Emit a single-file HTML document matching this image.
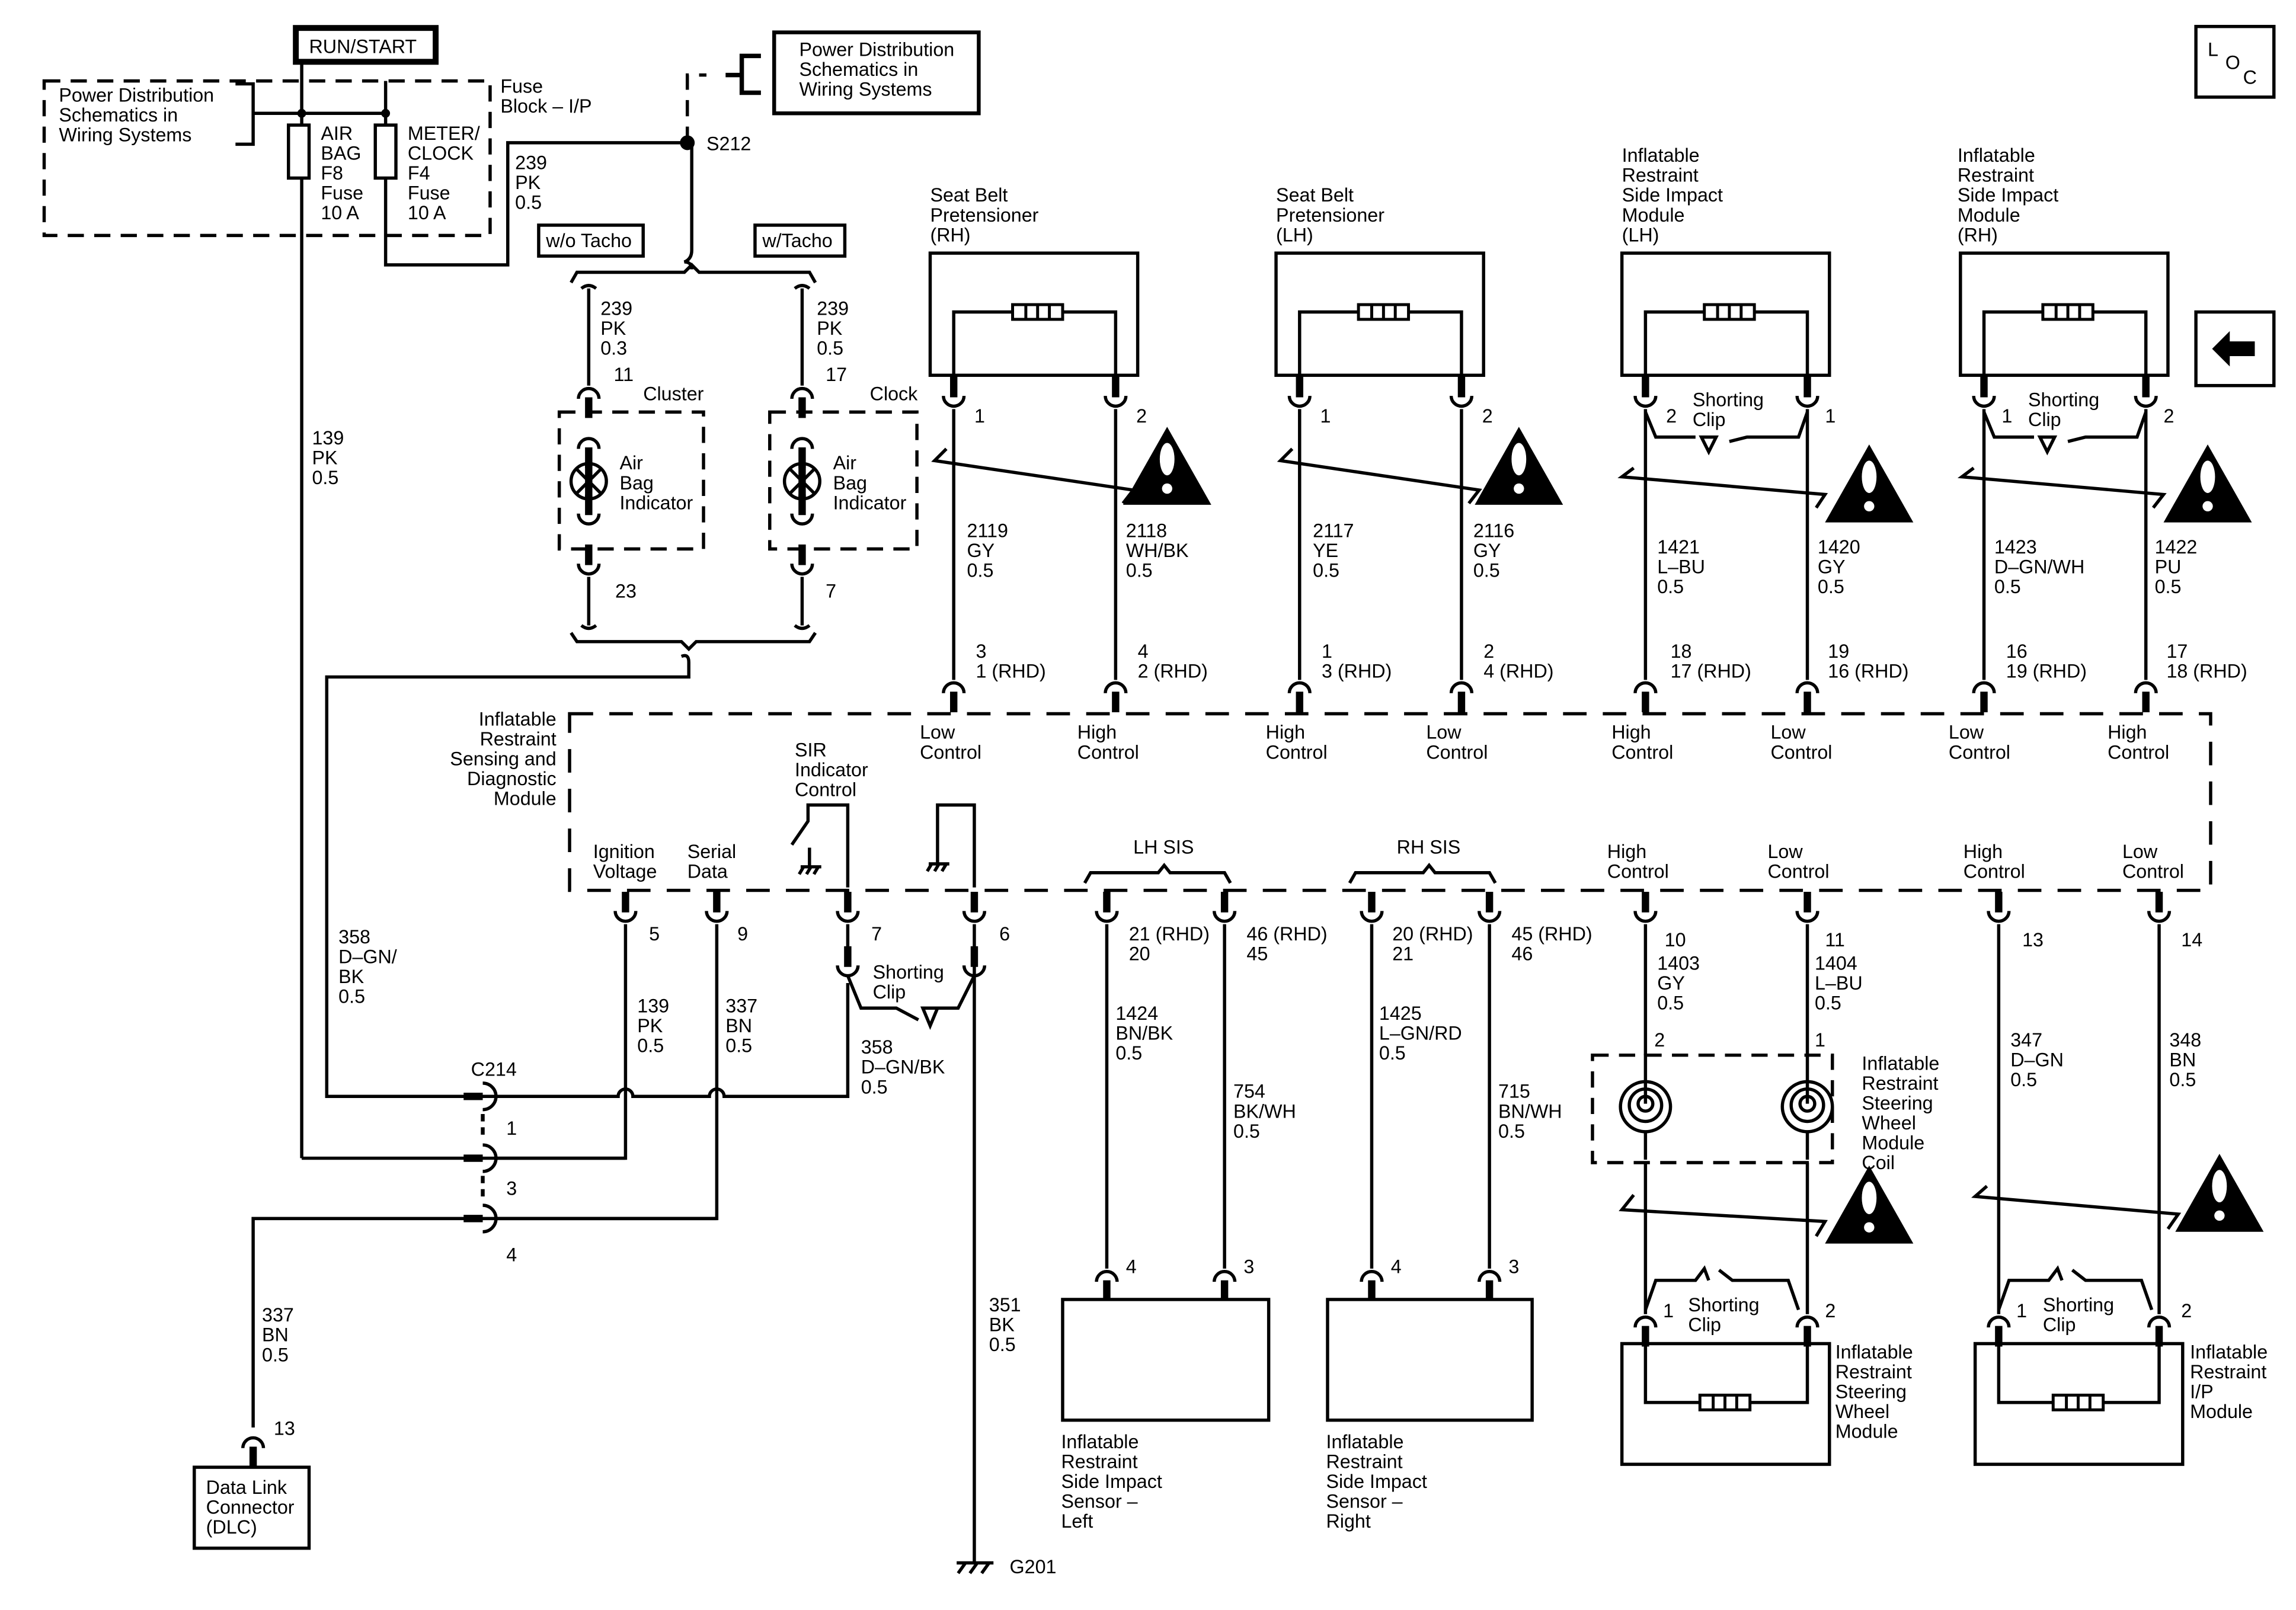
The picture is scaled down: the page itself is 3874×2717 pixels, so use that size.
<!DOCTYPE html>
<html><head><meta charset="utf-8"><style>
html,body{margin:0;padding:0;background:#fff}
svg{display:block}
text{font-family:"Liberation Sans",sans-serif;font-size:13px;fill:#000}
</style></head><body>
<svg width="3874" height="2717" viewBox="0 0 1560 1094" preserveAspectRatio="none" xmlns="http://www.w3.org/2000/svg">
<defs>
<g id="cu"><line x1="0" y1="-22" x2="0" y2="-8" stroke="#000" stroke-width="5"/><path d="M-7 -9 A7 7 0 0 0 7 -9" fill="none" stroke="#000" stroke-width="2.2"/></g>
<g id="ca"><path d="M-7 9 A7 7 0 0 1 7 9" fill="none" stroke="#000" stroke-width="2.2"/><line x1="0" y1="8" x2="0" y2="22" stroke="#000" stroke-width="5"/></g>
<g id="warn"><polygon points="0,-28 -30,25 30,25" fill="#000"/><ellipse cx="0" cy="-6" rx="5" ry="11" fill="#fff"/><circle cx="0" cy="14" r="3.5" fill="#fff"/></g>
<g id="res"><rect x="-17" y="-5" width="34" height="10" fill="#fff" stroke="#000" stroke-width="2"/><line x1="-8" y1="-5" x2="-8" y2="5" stroke="#000" stroke-width="2"/><line x1="0" y1="-5" x2="0" y2="5" stroke="#000" stroke-width="2"/><line x1="8" y1="-5" x2="8" y2="5" stroke="#000" stroke-width="2"/></g>
<g id="coil" fill="none" stroke="#000" stroke-width="2.2"><circle r="17" cx="0" cy="0"/><circle r="11" cx="0" cy="-1"/><circle r="5" cx="0" cy="-2"/><path d="M0 -36 V-2 M0 17 V36"/></g>
<g id="gnd" fill="none" stroke="#000" stroke-width="2.2"><path d="M-7 0 H7 M-5 0 L-8 5 M0 0 L-3 5 M5 0 L2 5"/></g>
</defs>
<g fill="none" stroke="#000" stroke-width="2.2">
<!-- top-left -->
<rect x="201" y="19" width="95" height="23" stroke-width="4"/>
<path d="M30 55 H333 V160 H30 Z" stroke-dasharray="11,7"/>
<path d="M160 57 H172 V98 H160 M172 77 H262"/>
<path d="M205 42 V85 M205 120 V787 M262 55 V85 M262 120 V180 H345 V97 H470"/>
<rect x="196" y="85" width="14" height="36"/><rect x="255" y="85" width="14" height="36"/>
<path d="M467 97 V51 H480" stroke-dasharray="11,7"/>
<path d="M493 51 H504 M517 38 H504 V63 H517" stroke-width="3"/>
<rect x="526" y="22" width="139" height="55" stroke-width="2.6"/>
<path d="M470 97 V170 Q470 176 465 178 Q470 178 470 183"/>
<path d="M388 192 L392 185 H465 L470 180 L475 185 H550 L554 192"/>
<rect x="366" y="153" width="71" height="21"/><rect x="513" y="153" width="61" height="21"/>
<!-- lamps -->
<path d="M400 196 V262 M545 196 V262"/>
<path d="M395 196 Q400 192 405 196 M540 196 Q545 192 550 196"/>
<rect x="380" y="280" width="98" height="93" stroke-dasharray="11,7"/>
<rect x="523" y="280" width="100" height="93" stroke-dasharray="11,7"/>
<circle cx="400" cy="327" r="12"/><path d="M392 319 L408 335 M408 319 L392 335"/>
<circle cx="545" cy="327" r="12"/><path d="M537 319 L553 335 M553 319 L537 335"/>
<path d="M400 392 V425 M545 392 V425 M395 425 Q400 429 405 425 M540 425 Q545 429 550 425"/>
<path d="M388 430 L392 436 H463 L468 441 L473 436 H550 L554 430"/>
<path d="M463 446 Q468 444 468 450 V460 H222 V745 H420 A5 5 0 0 1 430 745 H482 A5 5 0 0 1 492 745 H576 V668"/>
<!-- pretensioners / side modules -->
<rect x="632" y="172" width="141" height="83"/><path d="M648 255 V212 H758 V255"/>
<rect x="867" y="172" width="141" height="83"/><path d="M883 255 V212 H993 V255"/>
<rect x="1102" y="172" width="141" height="83"/><path d="M1118 255 V212 H1228 V255"/>
<rect x="1332" y="172" width="141" height="83"/><path d="M1348 255 V212 H1458 V255"/>
<path d="M648 278 V462 M758 278 V462 M883 278 V462 M993 278 V462 M1118 278 V462 M1228 278 V462 M1348 278 V462 M1458 278 V462"/>
<path d="M643 305 L635 313 L770 333 L763 342"/>
<path d="M878 305 L870 313 L1005 333 L998 342"/>
<path d="M1110 318 L1102 324 L1240 336 L1234 345"/>
<path d="M1341 318 L1333 324 L1470 336 L1463 345"/>
<path d="M1118 280 L1125 297 H1152 M1175 300 L1187 297 H1222 L1228 280"/>
<path d="M1348 280 L1355 297 H1382 M1405 300 L1417 297 H1452 L1458 280"/>
<path d="M1156 297 H1166 L1161 307 Z M1386 297 H1396 L1391 307 Z"/>
<!-- module -->
<path d="M387 485 H1502 V605 H387 Z" stroke-dasharray="16,11"/>
<path d="M576 603 V547 H549 V558 L538 574 M550 576 V589"/>
<path d="M662 603 V547 H637 V587"/>
<path d="M737 600 L741 593 H787 L791 588 L795 593 H832 L836 600"/>
<path d="M917 600 L921 593 H967 L971 588 L975 593 H1012 L1016 600"/>
<!-- bottom wires -->
<path d="M425 628 V787 H205"/>
<path d="M487 628 V828 H172 V970"/>
<path d="M662 628 V1062"/>
<path d="M576 628 V650"/>
<path d="M576 663 L585 685 H609 L624 693 M637 685 H651 L662 663"/>
<path d="M627 685 H637 L632 697 Z"/>
<path d="M752 628 V862 M832 628 V862 M932 628 V862 M1012 628 V862"/>
<rect x="722" y="883" width="140" height="82"/><rect x="902" y="883" width="139" height="82"/>
<rect x="132" y="997" width="78" height="55"/>
<path d="M1118 628 V893 M1228 628 V893 M1358 628 V893 M1467 628 V893"/>
<rect x="1082" y="717" width="163" height="73" stroke-dasharray="11,7" fill="#fff"/>
<path d="M1110 812 L1102 822 L1240 830 L1234 840"/>
<path d="M1350 806 L1342 813 L1480 825 L1473 835"/>
<path d="M1118 890 L1125 870 H1152 L1158 862 L1161 870 M1168 863 L1177 870 H1215 L1222 890"/>
<path d="M1358 890 L1365 870 H1392 L1398 862 L1401 870 M1408 863 L1417 870 H1455 L1462 890"/>
<rect x="1102" y="913" width="141" height="82"/><path d="M1118 913 V953 H1228 V913"/>
<rect x="1342" y="913" width="141" height="82"/><path d="M1358 913 V953 H1467 V913"/>
<!-- misc -->
<rect x="1492" y="18" width="53" height="48"/>
<rect x="1492" y="212" width="53" height="50"/>
<path d="M650 1062 H675 M651 1069 L656 1062 M659 1069 L664 1062 M667 1069 L672 1062"/>
<!-- C214 -->
<path d="M328 736 A9 9 0 0 1 328 754 M328 778 A9 9 0 0 1 328 796 M328 819 A9 9 0 0 1 328 837"/>
<path d="M328 757 V775 M328 799 V817" stroke-dasharray="5,4" stroke-width="2.6"/>
<path d="M336 787 H425"/>
<path d="M336 828 H487"/>
</g>
<use href="#gnd" x="551" y="589"/><use href="#gnd" x="638" y="587"/>
<g fill="#fff"><use href="#coil" x="1118" y="752"/><use href="#coil" x="1228" y="752"/></g>
<path d="M1503 237 L1515 225 V232 H1532 V242 H1515 V249 Z" fill="#000"/>
<circle cx="467" cy="97" r="5" fill="#000"/>
<circle cx="205" cy="77" r="3" fill="#000"/><circle cx="262" cy="77" r="3" fill="#000"/>
<g stroke="#000" stroke-width="5"><line x1="315" y1="745" x2="328" y2="745"/><line x1="315" y1="787" x2="328" y2="787"/><line x1="315" y1="828" x2="328" y2="828"/></g>
<!-- resistors -->
<use href="#res" x="705" y="212"/><use href="#res" x="940" y="212"/><use href="#res" x="1175" y="212"/><use href="#res" x="1405" y="212"/>
<use href="#res" x="1172" y="953"/><use href="#res" x="1412" y="953"/>
<!-- connectors -->
<use href="#ca" x="400" y="262"/><use href="#ca" x="545" y="262"/>
<use href="#ca" x="400" y="296"/><use href="#ca" x="545" y="296"/>
<use href="#cu" x="400" y="358"/><use href="#cu" x="545" y="358"/>
<use href="#cu" x="400" y="392"/><use href="#cu" x="545" y="392"/>
<line x1="400" y1="316" x2="400" y2="338" stroke="#000" stroke-width="5"/><line x1="545" y1="316" x2="545" y2="338" stroke="#000" stroke-width="5"/>
<use href="#cu" x="648" y="278"/><use href="#cu" x="758" y="278"/><use href="#cu" x="883" y="278"/><use href="#cu" x="993" y="278"/>
<use href="#cu" x="1118" y="278"/><use href="#cu" x="1228" y="278"/><use href="#cu" x="1348" y="278"/><use href="#cu" x="1458" y="278"/>
<use href="#ca" x="648" y="462"/><use href="#ca" x="758" y="462"/><use href="#ca" x="883" y="462"/><use href="#ca" x="993" y="462"/>
<use href="#ca" x="1118" y="462"/><use href="#ca" x="1228" y="462"/><use href="#ca" x="1348" y="462"/><use href="#ca" x="1458" y="462"/>
<use href="#cu" x="425" y="628"/><use href="#cu" x="487" y="628"/><use href="#cu" x="576" y="628"/><use href="#cu" x="662" y="628"/>
<use href="#cu" x="752" y="628"/><use href="#cu" x="832" y="628"/><use href="#cu" x="932" y="628"/><use href="#cu" x="1012" y="628"/>
<use href="#cu" x="1118" y="628"/><use href="#cu" x="1228" y="628"/><use href="#cu" x="1358" y="628"/><use href="#cu" x="1467" y="628"/>
<use href="#cu" x="576" y="665"/><use href="#cu" x="662" y="665"/>
<use href="#ca" x="752" y="862"/><use href="#ca" x="832" y="862"/><use href="#ca" x="932" y="862"/><use href="#ca" x="1012" y="862"/>
<use href="#ca" x="1118" y="893"/><use href="#ca" x="1228" y="893"/><use href="#ca" x="1358" y="893"/><use href="#ca" x="1467" y="893"/>
<use href="#ca" x="172" y="975"/>
<use href="#warn" x="793" y="318"/><use href="#warn" x="1032" y="318"/><use href="#warn" x="1270" y="330"/><use href="#warn" x="1500" y="330"/>
<use href="#warn" x="1270" y="820"/><use href="#warn" x="1508" y="812"/>
<!-- texts -->
<text x="210" y="36">RUN/START</text>
<text x="40" y="69">Power Distribution<tspan x="40" dy="13.5">Schematics in</tspan><tspan x="40" dy="13.5">Wiring Systems</tspan></text>
<text x="340" y="63">Fuse<tspan x="340" dy="13.5">Block – I/P</tspan></text>
<text x="218" y="95">AIR<tspan x="218" dy="13.5">BAG</tspan><tspan x="218" dy="13.5">F8</tspan><tspan x="218" dy="13.5">Fuse</tspan><tspan x="218" dy="13.5">10 A</tspan></text>
<text x="277" y="95">METER/<tspan x="277" dy="13.5">CLOCK</tspan><tspan x="277" dy="13.5">F4</tspan><tspan x="277" dy="13.5">Fuse</tspan><tspan x="277" dy="13.5">10 A</tspan></text>
<text x="350" y="115">239<tspan x="350" dy="13.5">PK</tspan><tspan x="350" dy="13.5">0.5</tspan></text>
<text x="480" y="102">S212</text>
<text x="543" y="38">Power Distribution<tspan x="543" dy="13.5">Schematics in</tspan><tspan x="543" dy="13.5">Wiring Systems</tspan></text>
<text x="371" y="168">w/o Tacho</text><text x="518" y="168">w/Tacho</text>
<text x="408" y="214">239<tspan x="408" dy="13.5">PK</tspan><tspan x="408" dy="13.5">0.3</tspan></text>
<text x="555" y="214">239<tspan x="555" dy="13.5">PK</tspan><tspan x="555" dy="13.5">0.5</tspan></text>
<text x="417" y="259">11</text><text x="437" y="272">Cluster</text>
<text x="561" y="259">17</text><text x="591" y="272">Clock</text>
<text x="421" y="319">Air<tspan x="421" dy="13.5">Bag</tspan><tspan x="421" dy="13.5">Indicator</tspan></text>
<text x="566" y="319">Air<tspan x="566" dy="13.5">Bag</tspan><tspan x="566" dy="13.5">Indicator</tspan></text>
<text x="418" y="406">23</text><text x="561" y="406">7</text>
<text x="212" y="302">139<tspan x="212" dy="13.5">PK</tspan><tspan x="212" dy="13.5">0.5</tspan></text>
<text x="632" y="137">Seat Belt<tspan x="632" dy="13.5">Pretensioner</tspan><tspan x="632" dy="13.5">(RH)</tspan></text>
<text x="867" y="137">Seat Belt<tspan x="867" dy="13.5">Pretensioner</tspan><tspan x="867" dy="13.5">(LH)</tspan></text>
<text x="1102" y="110">Inflatable<tspan x="1102" dy="13.5">Restraint</tspan><tspan x="1102" dy="13.5">Side Impact</tspan><tspan x="1102" dy="13.5">Module</tspan><tspan x="1102" dy="13.5">(LH)</tspan></text>
<text x="1330" y="110">Inflatable<tspan x="1330" dy="13.5">Restraint</tspan><tspan x="1330" dy="13.5">Side Impact</tspan><tspan x="1330" dy="13.5">Module</tspan><tspan x="1330" dy="13.5">(RH)</tspan></text>
<text x="1500" y="38">L</text><text x="1512" y="47">O</text><text x="1524" y="57">C</text>
<text x="662" y="287">1</text><text x="772" y="287">2</text><text x="897" y="287">1</text><text x="1007" y="287">2</text>
<text x="1132" y="287">2</text><text x="1240" y="287">1</text><text x="1360" y="287">1</text><text x="1470" y="287">2</text>
<text x="1150" y="276">Shorting<tspan x="1150" dy="13.5">Clip</tspan></text>
<text x="1378" y="276">Shorting<tspan x="1378" dy="13.5">Clip</tspan></text>
<text x="657" y="365">2119<tspan x="657" dy="13.5">GY</tspan><tspan x="657" dy="13.5">0.5</tspan></text>
<text x="765" y="365">2118<tspan x="765" dy="13.5">WH/BK</tspan><tspan x="765" dy="13.5">0.5</tspan></text>
<text x="892" y="365">2117<tspan x="892" dy="13.5">YE</tspan><tspan x="892" dy="13.5">0.5</tspan></text>
<text x="1001" y="365">2116<tspan x="1001" dy="13.5">GY</tspan><tspan x="1001" dy="13.5">0.5</tspan></text>
<text x="1126" y="376">1421<tspan x="1126" dy="13.5">L–BU</tspan><tspan x="1126" dy="13.5">0.5</tspan></text>
<text x="1235" y="376">1420<tspan x="1235" dy="13.5">GY</tspan><tspan x="1235" dy="13.5">0.5</tspan></text>
<text x="1355" y="376">1423<tspan x="1355" dy="13.5">D–GN/WH</tspan><tspan x="1355" dy="13.5">0.5</tspan></text>
<text x="1464" y="376">1422<tspan x="1464" dy="13.5">PU</tspan><tspan x="1464" dy="13.5">0.5</tspan></text>
<text x="663" y="447">3<tspan x="663" dy="13.5">1 (RHD)</tspan></text>
<text x="773" y="447">4<tspan x="773" dy="13.5">2 (RHD)</tspan></text>
<text x="898" y="447">1<tspan x="898" dy="13.5">3 (RHD)</tspan></text>
<text x="1008" y="447">2<tspan x="1008" dy="13.5">4 (RHD)</tspan></text>
<text x="1135" y="447">18<tspan x="1135" dy="13.5">17 (RHD)</tspan></text>
<text x="1242" y="447">19<tspan x="1242" dy="13.5">16 (RHD)</tspan></text>
<text x="1363" y="447">16<tspan x="1363" dy="13.5">19 (RHD)</tspan></text>
<text x="1472" y="447">17<tspan x="1472" dy="13.5">18 (RHD)</tspan></text>
<text x="625" y="502">Low<tspan x="625" dy="13.5">Control</tspan></text>
<text x="732" y="502">High<tspan x="732" dy="13.5">Control</tspan></text>
<text x="860" y="502">High<tspan x="860" dy="13.5">Control</tspan></text>
<text x="969" y="502">Low<tspan x="969" dy="13.5">Control</tspan></text>
<text x="1095" y="502">High<tspan x="1095" dy="13.5">Control</tspan></text>
<text x="1203" y="502">Low<tspan x="1203" dy="13.5">Control</tspan></text>
<text x="1324" y="502">Low<tspan x="1324" dy="13.5">Control</tspan></text>
<text x="1432" y="502">High<tspan x="1432" dy="13.5">Control</tspan></text>
<g text-anchor="end"><text x="378" y="493">Inflatable<tspan x="378" dy="13.5">Restraint</tspan><tspan x="378" dy="13.5">Sensing and</tspan><tspan x="378" dy="13.5">Diagnostic</tspan><tspan x="378" dy="13.5">Module</tspan></text></g>
<text x="540" y="514">SIR<tspan x="540" dy="13.5">Indicator</tspan><tspan x="540" dy="13.5">Control</tspan></text>
<text x="403" y="583">Ignition<tspan x="403" dy="13.5">Voltage</tspan></text>
<text x="467" y="583">Serial<tspan x="467" dy="13.5">Data</tspan></text>
<text x="770" y="580">LH SIS</text><text x="949" y="580">RH SIS</text>
<text x="1092" y="583">High<tspan x="1092" dy="13.5">Control</tspan></text>
<text x="1201" y="583">Low<tspan x="1201" dy="13.5">Control</tspan></text>
<text x="1334" y="583">High<tspan x="1334" dy="13.5">Control</tspan></text>
<text x="1442" y="583">Low<tspan x="1442" dy="13.5">Control</tspan></text>
<text x="441" y="639">5</text><text x="501" y="639">9</text><text x="592" y="639">7</text><text x="679" y="639">6</text>
<text x="767" y="639">21 (RHD)<tspan x="767" dy="13.5">20</tspan></text>
<text x="847" y="639">46 (RHD)<tspan x="847" dy="13.5">45</tspan></text>
<text x="946" y="639">20 (RHD)<tspan x="946" dy="13.5">21</tspan></text>
<text x="1027" y="639">45 (RHD)<tspan x="1027" dy="13.5">46</tspan></text>
<text x="1131" y="643">10<tspan x="1126" dy="16">1403</tspan><tspan x="1126" dy="13.5">GY</tspan><tspan x="1126" dy="13.5">0.5</tspan></text>
<text x="1240" y="643">11<tspan x="1233" dy="16">1404</tspan><tspan x="1233" dy="13.5">L–BU</tspan><tspan x="1233" dy="13.5">0.5</tspan></text>
<text x="1374" y="643">13</text><text x="1482" y="643">14</text>
<text x="230" y="641">358<tspan x="230" dy="13.5">D–GN/</tspan><tspan x="230" dy="13.5">BK</tspan><tspan x="230" dy="13.5">0.5</tspan></text>
<text x="433" y="688">139<tspan x="433" dy="13.5">PK</tspan><tspan x="433" dy="13.5">0.5</tspan></text>
<text x="493" y="688">337<tspan x="493" dy="13.5">BN</tspan><tspan x="493" dy="13.5">0.5</tspan></text>
<text x="593" y="665">Shorting<tspan x="593" dy="13.5">Clip</tspan></text>
<text x="585" y="716">358<tspan x="585" dy="13.5">D–GN/BK</tspan><tspan x="585" dy="13.5">0.5</tspan></text>
<text x="320" y="731">C214</text><text x="344" y="771">1</text><text x="344" y="812">3</text><text x="344" y="857">4</text>
<text x="758" y="693">1424<tspan x="758" dy="13.5">BN/BK</tspan><tspan x="758" dy="13.5">0.5</tspan></text>
<text x="838" y="746">754<tspan x="838" dy="13.5">BK/WH</tspan><tspan x="838" dy="13.5">0.5</tspan></text>
<text x="937" y="693">1425<tspan x="937" dy="13.5">L–GN/RD</tspan><tspan x="937" dy="13.5">0.5</tspan></text>
<text x="1018" y="746">715<tspan x="1018" dy="13.5">BN/WH</tspan><tspan x="1018" dy="13.5">0.5</tspan></text>
<text x="1124" y="711">2</text><text x="1233" y="711">1</text>
<text x="1366" y="711">347<tspan x="1366" dy="13.5">D–GN</tspan><tspan x="1366" dy="13.5">0.5</tspan></text>
<text x="1474" y="711">348<tspan x="1474" dy="13.5">BN</tspan><tspan x="1474" dy="13.5">0.5</tspan></text>
<text x="1265" y="727">Inflatable<tspan x="1265" dy="13.5">Restraint</tspan><tspan x="1265" dy="13.5">Steering</tspan><tspan x="1265" dy="13.5">Wheel</tspan><tspan x="1265" dy="13.5">Module</tspan><tspan x="1265" dy="13.5">Coil</tspan></text>
<text x="178" y="898">337<tspan x="178" dy="13.5">BN</tspan><tspan x="178" dy="13.5">0.5</tspan></text>
<text x="186" y="975">13</text>
<text x="140" y="1015">Data Link<tspan x="140" dy="13.5">Connector</tspan><tspan x="140" dy="13.5">(DLC)</tspan></text>
<text x="672" y="891">351<tspan x="672" dy="13.5">BK</tspan><tspan x="672" dy="13.5">0.5</tspan></text>
<text x="765" y="865">4</text><text x="845" y="865">3</text><text x="945" y="865">4</text><text x="1025" y="865">3</text>
<text x="1130" y="895">1</text><text x="1240" y="895">2</text><text x="1370" y="895">1</text><text x="1482" y="895">2</text>
<text x="1147" y="891">Shorting<tspan x="1147" dy="13.5">Clip</tspan></text>
<text x="1388" y="891">Shorting<tspan x="1388" dy="13.5">Clip</tspan></text>
<text x="1247" y="923">Inflatable<tspan x="1247" dy="13.5">Restraint</tspan><tspan x="1247" dy="13.5">Steering</tspan><tspan x="1247" dy="13.5">Wheel</tspan><tspan x="1247" dy="13.5">Module</tspan></text>
<text x="1488" y="923">Inflatable<tspan x="1488" dy="13.5">Restraint</tspan><tspan x="1488" dy="13.5">I/P</tspan><tspan x="1488" dy="13.5">Module</tspan></text>
<text x="721" y="984">Inflatable<tspan x="721" dy="13.5">Restraint</tspan><tspan x="721" dy="13.5">Side Impact</tspan><tspan x="721" dy="13.5">Sensor –</tspan><tspan x="721" dy="13.5">Left</tspan></text>
<text x="901" y="984">Inflatable<tspan x="901" dy="13.5">Restraint</tspan><tspan x="901" dy="13.5">Side Impact</tspan><tspan x="901" dy="13.5">Sensor –</tspan><tspan x="901" dy="13.5">Right</tspan></text>
<text x="686" y="1069">G201</text>
</svg>
</body></html>
